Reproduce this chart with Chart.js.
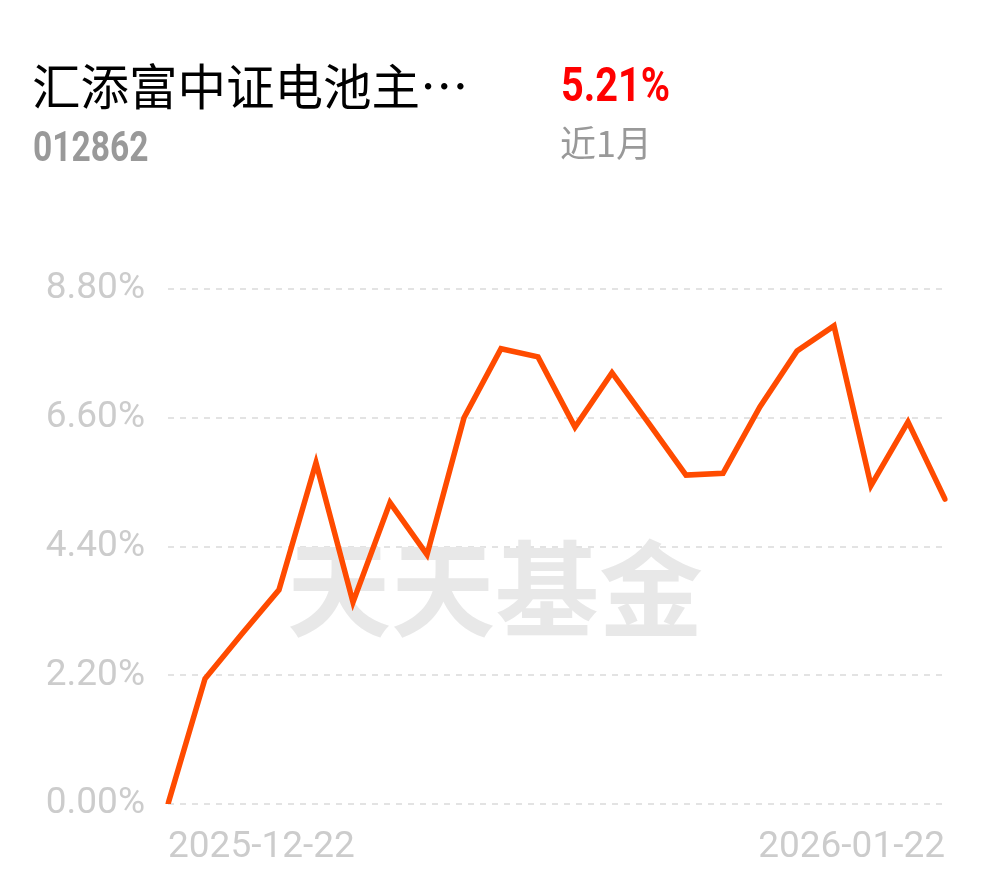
<!DOCTYPE html>
<html>
<head>
<meta charset="utf-8">
<script src="https://cdn.jsdelivr.net/npm/chart.js@4/dist/chart.umd.min.js"></script>
<style>
  html, body { margin: 0; padding: 0; background: #fff; }
  body { width: 990px; height: 878px; position: relative; overflow: hidden; }
  #wrap { position: absolute; left: 0; top: 0; width: 990px; height: 878px; }
  .t { position: absolute; white-space: nowrap; line-height: 1; }
  #title { left: 32px; top: 49px; font: 400 48.5px "Noto Sans CJK SC", sans-serif; color: #000; }
  #ret { left: 561px; top: 56px; font: 700 49px Roboto, sans-serif; color: #ff0000; transform: scaleX(0.81); transform-origin: left top; }
  #code { left: 33px; top: 121px; font: 700 43px Roboto, sans-serif; color: #999; transform: scaleX(0.78); transform-origin: left top; }
  #period { left: 560px; top: 115px; font: 400 36px "Noto Sans CJK SC", sans-serif; color: #999; }
</style>
</head>
<body>
<div id="wrap"><canvas id="c" width="990" height="878"></canvas></div>
<div class="t" id="title">汇添富中证电池主…</div>
<div class="t" id="ret">5.21%</div>
<div class="t" id="code">012862</div>
<div class="t" id="period">近1月</div>
<script>
const dates = ["2025-12-22","2025-12-23","2025-12-24","2025-12-25","2025-12-26","2025-12-29","2025-12-30","2025-12-31",
  "2026-01-05","2026-01-06","2026-01-07","2026-01-08","2026-01-09","2026-01-12","2026-01-13","2026-01-14","2026-01-15","2026-01-16",
  "2026-01-19","2026-01-20","2026-01-21","2026-01-22"];
const returns = [0, 2.14, 2.91, 3.66, 5.83, 3.45, 5.15, 4.26, 6.60, 7.78, 7.64, 6.44, 7.37, 6.50, 5.62, 5.65, 6.79, 7.74, 8.17, 5.44, 6.53, 5.21];
const yTicks = [0, 2.2, 4.4, 6.6, 8.8];
const watermarkText = "天天基金";

const watermark = {
  id: 'watermark',
  beforeDatasetsDraw(chart) {
    const ctx = chart.ctx;
    ctx.save();
    ctx.font = '700 104px "Noto Sans CJK SC", sans-serif';
    ctx.fillStyle = '#e8e8e8';
    ctx.textAlign = 'center';
    ctx.textBaseline = 'middle';
    ctx.fillText(watermarkText, 495, 589);
    ctx.restore();
  }
};

new Chart(document.getElementById('c'), {
  type: 'line',
  data: {
    labels: dates,
    datasets: [{
      data: returns,
      borderColor: '#ff4b00',
      borderWidth: 5.5,
      borderCapStyle: 'round',
      borderJoinStyle: 'miter',
      pointRadius: 0,
      tension: 0,
      fill: false
    }]
  },
  options: {
    responsive: false,
    animation: false,
    layout: { padding: { top: 289, right: 45, bottom: 14, left: 0 } },
    plugins: { legend: { display: false }, tooltip: { enabled: false } },
    scales: {
      x: {
        offset: false,
        grid: { display: false, drawTicks: false },
        border: { display: false },
        afterFit(s) { s.height = 60; },
        ticks: {
          autoSkip: false,
          maxRotation: 0,
          align: 'inner',
          padding: 22,
          color: '#cccccc',
          font: { family: 'Roboto', size: 37 },
          callback(v, i) { return (i === 0 || i === dates.length - 1) ? dates[i] : ''; }
        }
      },
      y: {
        min: 0,
        max: 8.8,
        afterFit(s) { s.width = 168; },
        afterBuildTicks(s) { s.ticks = yTicks.map(v => ({ value: v })); },
        grid: { drawTicks: false, color: '#e3e3e3', lineWidth: 2 },
        border: { display: false, dash: [6, 6] },
        ticks: {
          padding: 23,
          color: '#cccccc',
          font: { family: 'Roboto', size: 37 },
          callback(v) { return v.toFixed(2) + '%'; }
        }
      }
    }
  },
  plugins: [watermark]
});
</script>
</body>
</html>
